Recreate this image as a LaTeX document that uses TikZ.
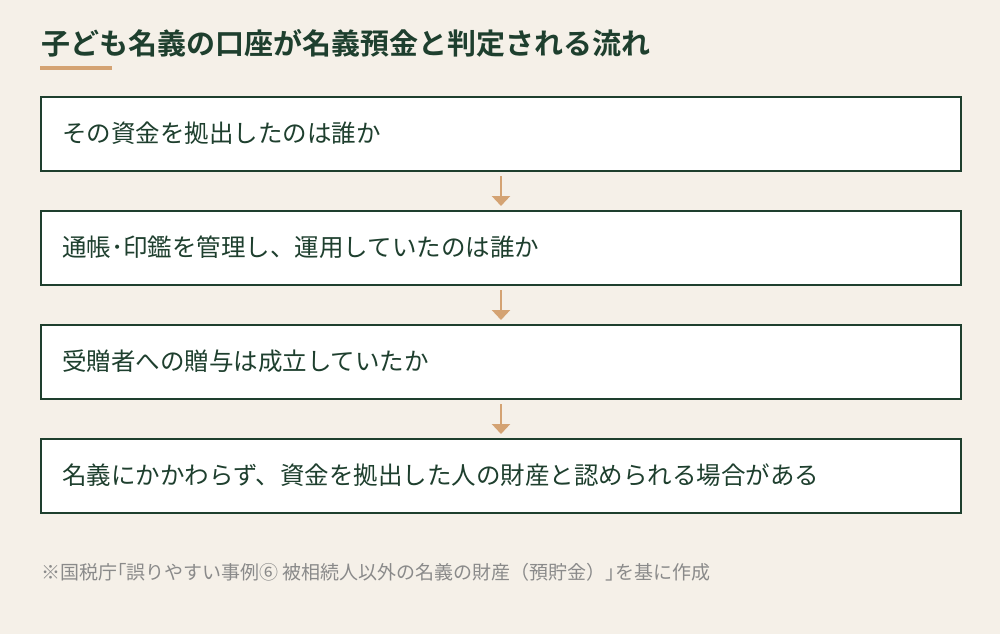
\documentclass[tikz,border=0pt]{standalone}
\usepackage{fontspec}
\setmainfont{Noto Sans CJK JP}
\newfontfamily\jpbold{Noto Sans CJK JP Bold}
\usetikzlibrary{arrows.meta}
\definecolor{bg}{HTML}{F5F0E8}
\definecolor{dg}{HTML}{1E3F2E}
\definecolor{ac}{HTML}{D4A373}
\definecolor{gr}{HTML}{8A8A8A}
\begin{document}
\begin{tikzpicture}[x=1pt,y=-1pt,
  flowbox/.style={draw=dg,line width=2pt,fill=white,minimum width=920pt,minimum height=74pt,anchor=north west,inner sep=0pt},
  lbl/.style={anchor=west,text=dg,font=\fontsize{24.5}{28}\selectfont,inner sep=0pt},
  arr/.style={draw=ac,line width=2.5pt,-{Triangle[width=18pt,length=10pt]}}]
\fill[bg] (0,0) rectangle (1000,634);
\useasboundingbox (0,0) rectangle (1000,634);
\node[anchor=west,text=dg,inner sep=0pt,font=\jpbold\fontsize{29}{33}\selectfont] (t) at (41,43) {子ども名義の口座が名義預金と判定される流れ};
\fill[ac] (40,66) rectangle (112,70);
\node[flowbox] (b1) at (40,96) {};
\node[flowbox] (b2) at (40,210) {};
\node[flowbox] (b3) at (40,324) {};
\node[flowbox] (b4) at (40,438) {};
\node[lbl] at (62,133) {その資金を拠出したのは誰か};
\node[lbl] at (62,247) {通帳･印鑑を管理し、運用していたのは誰か};
\node[lbl] at (62,361) {受贈者への贈与は成立していたか};
\node[lbl] at (62,475) {名義にかかわらず、資金を拠出した人の財産と認められる場合がある};
\draw[arr] ([yshift=-4pt]b1.south) -- ([yshift=4pt]b2.north);
\draw[arr] ([yshift=-4pt]b2.south) -- ([yshift=4pt]b3.north);
\draw[arr] ([yshift=-4pt]b3.south) -- ([yshift=4pt]b4.north);
\node[anchor=west,text=gr,inner sep=0pt,font=\fontsize{19}{22}\selectfont] (n) at (41,572) {※国税庁｢誤りやすい事例⑥ 被相続人以外の名義の財産（預貯金）｣を基に作成};
\end{tikzpicture}
\end{document}
